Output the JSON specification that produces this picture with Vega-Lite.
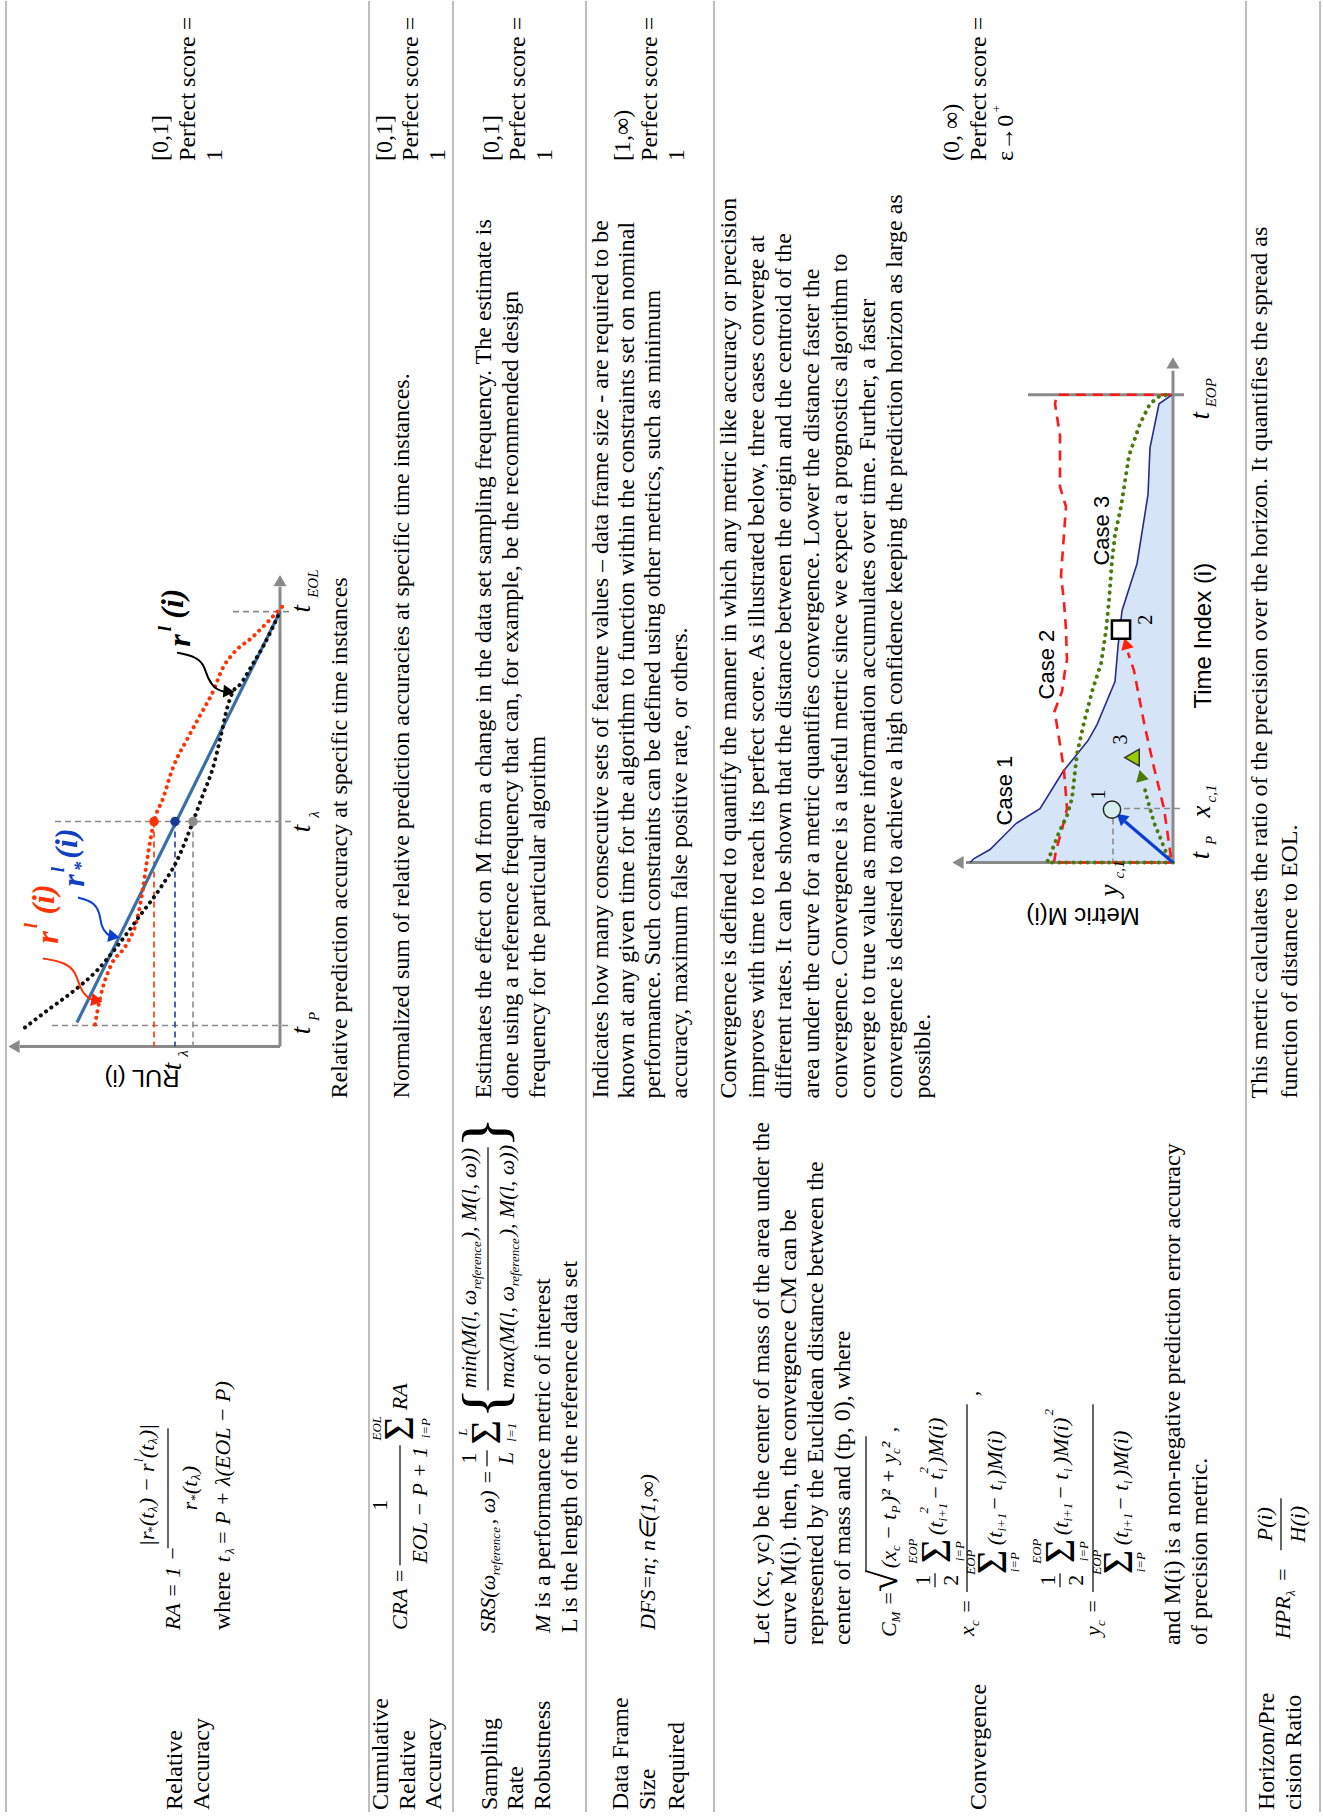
{
"$schema":"https://vega.github.io/schema/vega-lite/v6.json",
"width":1323,"height":1817,"padding":0,
"autosize":{"type":"fit","contains":"padding"},
"background":"white",
"config":{"view":{"stroke":null}},
"datasets":{
"R":[
{"x":6,"y":0,"x2":6,"y2":1812,"s":"sep"},
{"x":369,"y":0,"x2":369,"y2":1812,"s":"sep"},
{"x":453,"y":0,"x2":453,"y2":1812,"s":"sep"},
{"x":586,"y":0,"x2":586,"y2":1812,"s":"sep"},
{"x":714,"y":0,"x2":714,"y2":1812,"s":"sep"},
{"x":1246,"y":0,"x2":1246,"y2":1812,"s":"sep"},
{"x":1320,"y":0,"x2":1320,"y2":1812,"s":"sep"},
{"x":280,"y":1046,"x2":280,"y2":586,"s":"axis"},
{"x":280,"y":1046,"x2":20,"y2":1046,"s":"axis"},
{"x":52,"y":1025,"x2":292,"y2":1025,"s":"gdash"},
{"x":55,"y":821,"x2":292,"y2":821,"s":"gdash"},
{"x":233,"y":611,"x2":292,"y2":611,"s":"gdash"},
{"x":193,"y":821,"x2":193,"y2":1046,"s":"gdash"},
{"x":154,"y":821,"x2":154,"y2":1046,"s":"rdash"},
{"x":175,"y":821,"x2":175,"y2":1046,"s":"bdash"},
{"x":1173,"y":862,"x2":1173,"y2":370,"s":"axis"},
{"x":1173,"y":862,"x2":966,"y2":862,"s":"axis"},
{"x":1028,"y":394,"x2":1184,"y2":394,"s":"axis"},
{"x":1114,"y":808,"x2":1184,"y2":808,"s":"gdash"},
{"x":1113,"y":808,"x2":1113,"y2":862,"s":"gdash"},
{"x":168,"y":1548,"x2":168,"y2":1428,"s":"fbar"},
{"x":400,"y":1565,"x2":400,"y2":1445,"s":"fbar"},
{"x":487,"y":1466,"x2":487,"y2":1450,"s":"fbar"},
{"x":488,"y":1390,"x2":488,"y2":1147,"s":"fbar"},
{"x":866,"y":1572,"x2":866,"y2":1436,"s":"fbar"},
{"x":935,"y":1587,"x2":935,"y2":1573,"s":"fbar"},
{"x":967,"y":1592,"x2":967,"y2":1404,"s":"fbar"},
{"x":1060,"y":1587,"x2":1060,"y2":1573,"s":"fbar"},
{"x":1093,"y":1592,"x2":1093,"y2":1404,"s":"fbar"},
{"x":1281,"y":1550,"x2":1281,"y2":1498,"s":"fbar"}
],
"A":[
{"x":970,"y":862,"y2":862},{"x":974,"y":858,"y2":862},{"x":990,"y":849,"y2":862},{"x":1016,"y":823,"y2":862},{"x":1040,"y":808,"y2":862},{"x":1063,"y":771,"y2":862},{"x":1088,"y":740,"y2":862},{"x":1097,"y":724,"y2":862},{"x":1115,"y":681,"y2":862},{"x":1118,"y":646,"y2":862},{"x":1122,"y":610,"y2":862},{"x":1137,"y":563,"y2":862},{"x":1148,"y":494,"y2":862},{"x":1150,"y":447,"y2":862},{"x":1159,"y":403,"y2":862},{"x":1172,"y":394,"y2":862},{"x":1173,"y":394,"y2":862}
],
"L":[
{"s":"ra_true","i":0,"x":77,"y":1022},{"s":"ra_true","i":1,"x":280,"y":611},
{"s":"ra_pred","i":0,"x":95,"y":1024},{"s":"ra_pred","i":1,"x":100,"y":998},{"s":"ra_pred","i":2,"x":110,"y":967},{"s":"ra_pred","i":3,"x":127,"y":943},{"s":"ra_pred","i":4,"x":137,"y":919},{"s":"ra_pred","i":5,"x":143,"y":888},{"s":"ra_pred","i":6,"x":147,"y":860},{"s":"ra_pred","i":7,"x":154,"y":821},{"s":"ra_pred","i":8,"x":163,"y":798},{"s":"ra_pred","i":9,"x":173,"y":767},{"s":"ra_pred","i":10,"x":187,"y":739},{"s":"ra_pred","i":11,"x":200,"y":715},{"s":"ra_pred","i":12,"x":213,"y":691},{"s":"ra_pred","i":13,"x":223,"y":667},{"s":"ra_pred","i":14,"x":233,"y":653},{"s":"ra_pred","i":15,"x":253,"y":636},{"s":"ra_pred","i":16,"x":267,"y":622},{"s":"ra_pred","i":17,"x":285,"y":603},
{"s":"ra_other","i":0,"x":25,"y":1027},{"s":"ra_other","i":1,"x":50,"y":1008},{"s":"ra_other","i":2,"x":73,"y":991},{"s":"ra_other","i":3,"x":97,"y":970},{"s":"ra_other","i":4,"x":117,"y":946},{"s":"ra_other","i":5,"x":140,"y":915},{"s":"ra_other","i":6,"x":160,"y":888},{"s":"ra_other","i":7,"x":177,"y":860},{"s":"ra_other","i":8,"x":193,"y":821},{"s":"ra_other","i":9,"x":203,"y":794},{"s":"ra_other","i":10,"x":213,"y":767},{"s":"ra_other","i":11,"x":220,"y":739},{"s":"ra_other","i":12,"x":227,"y":708},{"s":"ra_other","i":13,"x":233,"y":691},{"s":"ra_other","i":14,"x":240,"y":684},{"s":"ra_other","i":15,"x":253,"y":663},{"s":"ra_other","i":16,"x":263,"y":646},{"s":"ra_other","i":17,"x":280,"y":611},
{"s":"cv1","i":0,"x":970,"y":862},{"s":"cv1","i":1,"x":974,"y":858},{"s":"cv1","i":2,"x":990,"y":849},{"s":"cv1","i":3,"x":1016,"y":823},{"s":"cv1","i":4,"x":1040,"y":808},{"s":"cv1","i":5,"x":1063,"y":771},{"s":"cv1","i":6,"x":1088,"y":740},{"s":"cv1","i":7,"x":1097,"y":724},{"s":"cv1","i":8,"x":1115,"y":681},{"s":"cv1","i":9,"x":1118,"y":646},{"s":"cv1","i":10,"x":1122,"y":610},{"s":"cv1","i":11,"x":1137,"y":563},{"s":"cv1","i":12,"x":1148,"y":494},{"s":"cv1","i":13,"x":1150,"y":447},{"s":"cv1","i":14,"x":1159,"y":403},{"s":"cv1","i":15,"x":1172,"y":394},
{"s":"cv2","i":0,"x":1173,"y":862},{"s":"cv2","i":1,"x":1054,"y":862},{"s":"cv2","i":2,"x":1056,"y":850},{"s":"cv2","i":3,"x":1062,"y":829},{"s":"cv2","i":4,"x":1067,"y":808},{"s":"cv2","i":5,"x":1064,"y":770},{"s":"cv2","i":6,"x":1061,"y":750},{"s":"cv2","i":7,"x":1056,"y":719},{"s":"cv2","i":8,"x":1054,"y":712},{"s":"cv2","i":9,"x":1062,"y":691},{"s":"cv2","i":10,"x":1066,"y":663},{"s":"cv2","i":11,"x":1067,"y":660},{"s":"cv2","i":12,"x":1066,"y":629},{"s":"cv2","i":13,"x":1064,"y":601},{"s":"cv2","i":14,"x":1061,"y":575},{"s":"cv2","i":15,"x":1066,"y":506},{"s":"cv2","i":16,"x":1060,"y":486},{"s":"cv2","i":17,"x":1060,"y":458},{"s":"cv2","i":18,"x":1060,"y":435},{"s":"cv2","i":19,"x":1055,"y":403},{"s":"cv2","i":20,"x":1057,"y":394},{"s":"cv2","i":21,"x":1172,"y":394},
{"s":"cv3","i":0,"x":1173,"y":862},{"s":"cv3","i":1,"x":1047,"y":862},{"s":"cv3","i":2,"x":1052,"y":850},{"s":"cv3","i":3,"x":1059,"y":832},{"s":"cv3","i":4,"x":1067,"y":815},{"s":"cv3","i":5,"x":1072,"y":798},{"s":"cv3","i":6,"x":1077,"y":753},{"s":"cv3","i":7,"x":1084,"y":722},{"s":"cv3","i":8,"x":1092,"y":691},{"s":"cv3","i":9,"x":1101,"y":663},{"s":"cv3","i":10,"x":1106,"y":630},{"s":"cv3","i":11,"x":1109,"y":600},{"s":"cv3","i":12,"x":1112,"y":560},{"s":"cv3","i":13,"x":1115,"y":534},{"s":"cv3","i":14,"x":1121,"y":506},{"s":"cv3","i":15,"x":1129,"y":455},{"s":"cv3","i":16,"x":1140,"y":423},{"s":"cv3","i":17,"x":1150,"y":403},{"s":"cv3","i":18,"x":1160,"y":395},{"s":"cv3","i":19,"x":1172,"y":394},
{"s":"arr_blue","i":0,"x":1173,"y":862},{"s":"arr_blue","i":1,"x":1125,"y":821},
{"s":"arr_red","i":0,"x":1171,"y":857},{"s":"arr_red","i":1,"x":1164,"y":808},{"s":"arr_red","i":2,"x":1154,"y":767},{"s":"arr_red","i":3,"x":1144,"y":722},{"s":"arr_red","i":4,"x":1134,"y":670},{"s":"arr_red","i":5,"x":1128,"y":652},
{"s":"arr_green","i":0,"x":1168,"y":857},{"s":"arr_green","i":1,"x":1161,"y":839},{"s":"arr_green","i":2,"x":1154,"y":822},{"s":"arr_green","i":3,"x":1148,"y":801},{"s":"arr_green","i":4,"x":1144,"y":785},
{"s":"curl_red","i":0,"x":43,"y":958},{"s":"curl_red","i":1,"x":66,"y":962},{"s":"curl_red","i":2,"x":76,"y":972},{"s":"curl_red","i":3,"x":80,"y":988},{"s":"curl_red","i":4,"x":87,"y":997},{"s":"curl_red","i":5,"x":92,"y":999},
{"s":"curl_blue","i":0,"x":78,"y":897},{"s":"curl_blue","i":1,"x":93,"y":901},{"s":"curl_blue","i":2,"x":100,"y":912},{"s":"curl_blue","i":3,"x":101,"y":926},{"s":"curl_blue","i":4,"x":107,"y":934},{"s":"curl_blue","i":5,"x":110,"y":935},
{"s":"curl_black","i":0,"x":177,"y":652},{"s":"curl_black","i":1,"x":196,"y":656},{"s":"curl_black","i":2,"x":204,"y":664},{"s":"curl_black","i":3,"x":208,"y":679},{"s":"curl_black","i":4,"x":216,"y":689},{"s":"curl_black","i":5,"x":224,"y":691}
],
"P":[
{"k":"dot","x":154,"y":821,"s":"dot_red","a":0},
{"k":"dot","x":175,"y":821,"s":"dot_blue","a":0},
{"k":"dot","x":193,"y":821,"s":"dot_gray","a":0},
{"k":"head","x":280,"y":580,"s":"head_gray","a":0},
{"k":"head","x":14,"y":1046,"s":"head_gray","a":270},
{"k":"head","x":97,"y":1000,"s":"head_red","a":100},
{"k":"head","x":114,"y":936,"s":"head_blue","a":100},
{"k":"head","x":229,"y":691,"s":"head_black","a":95},
{"k":"head","x":1173,"y":362,"s":"head_gray","a":0},
{"k":"head","x":958,"y":862,"s":"head_gray","a":270},
{"k":"head","x":1121,"y":817,"s":"head_blue","a":311},
{"k":"head","x":1126,"y":643,"s":"head_red","a":344},
{"k":"head","x":1141,"y":775,"s":"head_green","a":345},
{"k":"c1","x":1112,"y":809,"s":"m","a":0},
{"k":"sq","x":1121,"y":629,"s":"m","a":0},
{"k":"tri","x":1132,"y":757,"s":"m","a":0}
],
"T":[
{"x":161,"y":160,"t":"[0,1]","r":"b"},
{"x":188,"y":160,"t":"Perfect score =","r":"b"},
{"x":215,"y":160,"t":"1","r":"b"},
{"x":385,"y":160,"t":"[0,1]","r":"b"},
{"x":411,"y":160,"t":"Perfect score =","r":"b"},
{"x":438,"y":160,"t":"1","r":"b"},
{"x":492,"y":160,"t":"[0,1]","r":"b"},
{"x":518,"y":160,"t":"Perfect score =","r":"b"},
{"x":545,"y":160,"t":"1","r":"b"},
{"x":623,"y":160,"t":"[1,∞)","r":"b"},
{"x":650,"y":160,"t":"Perfect score =","r":"b"},
{"x":677,"y":160,"t":"1","r":"b"},
{"x":952,"y":160,"t":"(0, ∞)","r":"b"},
{"x":979,"y":160,"t":"Perfect score =","r":"b"},
{"x":1006,"y":160,"t":"ε→0","r":"b"},
{"x":997,"y":108,"t":"+","r":"s"},
{"x":175,"y":1810,"t":"Relative","r":"b"},
{"x":202,"y":1810,"t":"Accuracy","r":"b"},
{"x":381,"y":1810,"t":"Cumulative","r":"b"},
{"x":408,"y":1810,"t":"Relative","r":"b"},
{"x":434,"y":1810,"t":"Accuracy","r":"b"},
{"x":490,"y":1810,"t":"Sampling","r":"b"},
{"x":516,"y":1810,"t":"Rate","r":"b"},
{"x":543,"y":1810,"t":"Robustness","r":"b"},
{"x":621,"y":1810,"t":"Data Frame","r":"b"},
{"x":648,"y":1810,"t":"Size","r":"b"},
{"x":677,"y":1810,"t":"Required","r":"b"},
{"x":979,"y":1810,"t":"Convergence","r":"b"},
{"x":1267,"y":1810,"t":"Horizon/Pre","r":"b"},
{"x":1294,"y":1810,"t":"cision Ratio","r":"b"},
{"x":340,"y":1098,"t":"Relative prediction accuracy at specific time instances","r":"b"},
{"x":402,"y":1098,"t":"Normalized sum of relative prediction accuracies at specific time instances.","r":"b"},
{"x":484,"y":1098,"t":"Estimates the effect on M from a change in the data set sampling frequency. The estimate is","r":"b"},
{"x":511,"y":1098,"t":"done using a reference frequency that can, for example, be the recommended design","r":"b"},
{"x":538,"y":1098,"t":"frequency for the particular algorithm","r":"b"},
{"x":601,"y":1098,"t":"Indicates how many consecutive sets of feature values – data frame size - are required to be","r":"b"},
{"x":627,"y":1098,"t":"known at any given time for the algorithm to function within the constraints set on nominal","r":"b"},
{"x":653,"y":1098,"t":"performance.  Such constraints can be defined using other metrics, such as minimum","r":"b"},
{"x":680,"y":1098,"t":"accuracy, maximum false positive rate, or others.","r":"b"},
{"x":729,"y":1098,"t":"Convergence is defined to quantify the manner in which any metric like accuracy or precision","r":"b"},
{"x":757,"y":1098,"t":"improves with time to reach its perfect score. As illustrated below, three cases converge at","r":"b"},
{"x":784,"y":1098,"t":"different rates. It can be shown that the distance between the origin and the centroid of the","r":"b"},
{"x":812,"y":1098,"t":"area under the curve for a metric quantifies convergence. Lower the distance faster the","r":"b"},
{"x":840,"y":1098,"t":"convergence. Convergence is a useful metric since we expect a prognostics algorithm to","r":"b"},
{"x":868,"y":1098,"t":"converge to true value as more information accumulates over time. Further, a faster","r":"b"},
{"x":895,"y":1098,"t":"convergence is desired to achieve a high confidence keeping the prediction horizon as large as","r":"b"},
{"x":923,"y":1098,"t":"possible.","r":"b"},
{"x":1260,"y":1098,"t":"This metric calculates the ratio of the precision over the horizon. It quantifies the spread as","r":"b"},
{"x":1290,"y":1098,"t":"function of distance to EOL.","r":"b"},
{"x":173,"y":1630,"t":"RA = 1 −","r":"i"},
{"x":147,"y":1546,"t":"|r","r":"i"},
{"x":152,"y":1530,"t":"*","r":"s"},
{"x":147,"y":1526,"t":"(t","r":"i"},
{"x":153,"y":1509,"t":"λ","r":"s"},
{"x":147,"y":1505,"t":") − r","r":"i"},
{"x":139,"y":1460,"t":"l","r":"s"},
{"x":147,"y":1458,"t":"(t","r":"i"},
{"x":153,"y":1441,"t":"λ","r":"s"},
{"x":147,"y":1437,"t":")|","r":"i"},
{"x":190,"y":1510,"t":"r","r":"i"},
{"x":195,"y":1498,"t":"*","r":"s"},
{"x":190,"y":1494,"t":"(t","r":"i"},
{"x":196,"y":1477,"t":"λ","r":"s"},
{"x":190,"y":1473,"t":")","r":"i"},
{"x":223,"y":1630,"t":"where","r":"b"},
{"x":223,"y":1562,"t":"t","r":"i"},
{"x":230,"y":1551,"t":"λ","r":"s"},
{"x":223,"y":1545,"t":"= P + λ(EOL − P)","r":"i"},
{"x":400,"y":1630,"t":"CRA =","r":"i"},
{"x":380,"y":1505,"t":"1","r":"rc"},
{"x":420,"y":1505,"t":"EOL − P + 1","r":"ic"},
{"x":400,"y":1428,"t":"Σ","r":"sig"},
{"x":377,"y":1428,"t":"EOL","r":"s"},
{"x":426,"y":1428,"t":"i=P","r":"s"},
{"x":400,"y":1410,"t":"RA","r":"i"},
{"x":488,"y":1633,"t":"SRS(ω","r":"i"},
{"x":496,"y":1551,"t":"reference","r":"s"},
{"x":488,"y":1524,"t":", ω) =","r":"i"},
{"x":469,"y":1458,"t":"1","r":"rc"},
{"x":506,"y":1458,"t":"L","r":"ic"},
{"x":487,"y":1432,"t":"Σ","r":"sig"},
{"x":463,"y":1432,"t":"L","r":"s"},
{"x":512,"y":1432,"t":"l=1","r":"s"},
{"x":487,"y":1403,"t":"{","r":"br"},
{"x":469,"y":1388,"t":"min(M(l, ω","r":"i"},
{"x":477,"y":1265,"t":"reference","r":"s"},
{"x":469,"y":1239,"t":"), M(l, ω))","r":"i"},
{"x":507,"y":1388,"t":"max(M(l, ω","r":"i"},
{"x":515,"y":1262,"t":"reference","r":"s"},
{"x":507,"y":1236,"t":"), M(l, ω))","r":"i"},
{"x":487,"y":1132,"t":"}","r":"br"},
{"x":543,"y":1633,"t":"M","r":"i"},
{"x":543,"y":1608,"t":"is a performance metric of interest","r":"b"},
{"x":570,"y":1633,"t":"L is the length of the reference data set","r":"b"},
{"x":648,"y":1630,"t":"DFS=n;  n∈(1,∞)","r":"i"},
{"x":762,"y":1645,"t":"Let (xc, yc) be the center of mass of the area under the","r":"b"},
{"x":789,"y":1645,"t":"curve M(i). then, the convergence CM can be","r":"b"},
{"x":816,"y":1645,"t":"represented by the Euclidean distance between the","r":"b"},
{"x":843,"y":1645,"t":"center of mass and (tp, 0), where","r":"b"},
{"x":889,"y":1637,"t":"C","r":"i"},
{"x":896,"y":1617,"t":"M","r":"s"},
{"x":889,"y":1606,"t":"=","r":"i"},
{"x":885,"y":1581,"t":"√","r":"rad"},
{"x":889,"y":1568,"t":"(x","r":"i"},
{"x":896,"y":1548,"t":"c","r":"s"},
{"x":889,"y":1540,"t":"− t","r":"i"},
{"x":896,"y":1509,"t":"P","r":"s"},
{"x":889,"y":1503,"t":")² + y","r":"i"},
{"x":896,"y":1451,"t":"c","r":"s"},
{"x":889,"y":1448,"t":"²","r":"i"},
{"x":889,"y":1432,"t":",","r":"i"},
{"x":967,"y":1636,"t":"x","r":"i"},
{"x":975,"y":1623,"t":"c","r":"s"},
{"x":967,"y":1614,"t":"=","r":"i"},
{"x":923,"y":1580,"t":"1","r":"rc"},
{"x":951,"y":1580,"t":"2","r":"rc"},
{"x":937,"y":1551,"t":"Σ","r":"sig"},
{"x":913,"y":1551,"t":"EOP","r":"s"},
{"x":960,"y":1551,"t":"i=P","r":"s"},
{"x":936,"y":1535,"t":"(t","r":"i"},
{"x":943,"y":1512,"t":"i+1","r":"s"},
{"x":924,"y":1510,"t":"2","r":"s"},
{"x":936,"y":1500,"t":"− t","r":"i"},
{"x":943,"y":1470,"t":"i","r":"s"},
{"x":924,"y":1470,"t":"2","r":"s"},
{"x":936,"y":1464,"t":")M(i)","r":"i"},
{"x":993,"y":1562,"t":"Σ","r":"sig"},
{"x":971,"y":1562,"t":"EOP","r":"s"},
{"x":1015,"y":1562,"t":"i=P","r":"s"},
{"x":995,"y":1545,"t":"(t","r":"i"},
{"x":1002,"y":1522,"t":"i+1","r":"s"},
{"x":995,"y":1511,"t":"− t","r":"i"},
{"x":1002,"y":1482,"t":"i","r":"s"},
{"x":995,"y":1477,"t":")M(i)","r":"i"},
{"x":971,"y":1396,"t":",","r":"i"},
{"x":1093,"y":1636,"t":"y","r":"i"},
{"x":1101,"y":1623,"t":"c","r":"s"},
{"x":1093,"y":1614,"t":"=","r":"i"},
{"x":1048,"y":1580,"t":"1","r":"rc"},
{"x":1076,"y":1580,"t":"2","r":"rc"},
{"x":1061,"y":1551,"t":"Σ","r":"sig"},
{"x":1037,"y":1551,"t":"EOP","r":"s"},
{"x":1084,"y":1551,"t":"i=P","r":"s"},
{"x":1061,"y":1535,"t":"(t","r":"i"},
{"x":1068,"y":1512,"t":"i+1","r":"s"},
{"x":1061,"y":1500,"t":"− t","r":"i"},
{"x":1068,"y":1470,"t":"i","r":"s"},
{"x":1061,"y":1464,"t":")M(i)","r":"i"},
{"x":1049,"y":1412,"t":"2","r":"s"},
{"x":1119,"y":1562,"t":"Σ","r":"sig"},
{"x":1097,"y":1562,"t":"EOP","r":"s"},
{"x":1141,"y":1562,"t":"i=P","r":"s"},
{"x":1121,"y":1545,"t":"(t","r":"i"},
{"x":1128,"y":1522,"t":"i+1","r":"s"},
{"x":1121,"y":1511,"t":"− t","r":"i"},
{"x":1128,"y":1482,"t":"i","r":"s"},
{"x":1121,"y":1477,"t":")M(i)","r":"i"},
{"x":1173,"y":1645,"t":"and M(i) is a non-negative prediction error accuracy","r":"b"},
{"x":1200,"y":1645,"t":"of precision metric.","r":"b"},
{"x":1283,"y":1639,"t":"HPR","r":"i"},
{"x":1291,"y":1593,"t":"λ","r":"s"},
{"x":1283,"y":1582,"t":"=","r":"i"},
{"x":1265,"y":1524,"t":"P(i)","r":"ic"},
{"x":1298,"y":1524,"t":"H(i)","r":"ic"},
{"x":142,"y":1077,"t":"RUL (i)","r":"flip"},
{"x":173,"y":1066,"t":"t","r":"tl"},
{"x":183,"y":1053,"t":"λ","r":"tls"},
{"x":302,"y":1030,"t":"t","r":"tl"},
{"x":314,"y":1016,"t":"P","r":"tls"},
{"x":302,"y":828,"t":"t","r":"tl"},
{"x":314,"y":814,"t":"λ","r":"tls"},
{"x":302,"y":608,"t":"t","r":"tl"},
{"x":313,"y":583,"t":"EOL","r":"tls"},
{"x":1201,"y":855,"t":"t","r":"tl"},
{"x":1211,"y":840,"t":"P","r":"tls"},
{"x":1202,"y":811,"t":"x","r":"tl"},
{"x":1211,"y":793,"t":"c,1","r":"tls"},
{"x":1110,"y":890,"t":"y","r":"tl"},
{"x":1119,"y":869,"t":"c,1","r":"tls"},
{"x":1201,"y":415,"t":"t","r":"tl"},
{"x":1211,"y":392,"t":"EOP","r":"tls"},
{"x":1083,"y":915,"t":"Metric M(i)","r":"flip"},
{"x":1204,"y":708,"t":"Time Index (i)","r":"sansl"},
{"x":1005,"y":790,"t":"Case 1","r":"case"},
{"x":1047,"y":664,"t":"Case 2","r":"case"},
{"x":1102,"y":530,"t":"Case 3","r":"case"},
{"x":1099,"y":794,"t":"1","r":"n"},
{"x":1146,"y":619,"t":"2","r":"n"},
{"x":1121,"y":739,"t":"3","r":"n"},
{"x":48,"y":937,"t":"r","r":"L","s":"lab_red"},
{"x":31,"y":925,"t":"l","r":"Ls","s":"lab_red"},
{"x":44,"y":899,"t":"(i)","r":"L","s":"lab_red"},
{"x":74,"y":880,"t":"r","r":"L","s":"lab_blue"},
{"x":58,"y":869,"t":"l","r":"Ls","s":"lab_blue"},
{"x":81,"y":866,"t":"*","r":"Ls","s":"lab_blue"},
{"x":67,"y":843,"t":"(i)","r":"L","s":"lab_blue"},
{"x":180,"y":640,"t":"r","r":"L","s":"lab_black"},
{"x":165,"y":628,"t":"l","r":"Ls","s":"lab_black"},
{"x":173,"y":603,"t":"(i)","r":"L","s":"lab_black"}
]
},
"encoding":{
"x":{"field":"x","type":"quantitative","scale":{"domain":[0,1323],"nice":false,"zero":false},"axis":null},
"y":{"field":"y","type":"quantitative","scale":{"domain":[0,1817],"nice":false,"zero":false,"reverse":true},"axis":null}
},
"layer":[
{"data":{"name":"A"},"mark":{"type":"area","color":"#d6e4f8","opacity":1},"encoding":{"y2":{"field":"y2"}}},
{"data":{"name":"R"},"transform":[{"filter":{"field":"s","equal":"sep"}}],"mark":{"type":"rule","strokeWidth":2},"encoding":{"x2":{"field":"x2"},"y2":{"field":"y2"},"color":{"field":"s","type":"nominal","legend":null,"scale":{"domain":["sep","fbar","axis","gdash","rdash","bdash","ra_true","ra_pred","ra_other","cv1","cv2","cv3","arr_blue","arr_red","arr_green","curl_red","curl_blue","curl_black","dot_red","dot_blue","dot_gray","head_gray","head_red","head_blue","head_black","head_green","lab_red","lab_blue","lab_black"],"range":["#bdbdbd","#000000","#8a8a8a","#8a8a8a","#ff3300","#1f3f9f","#3a6ea8","#ff3300","#111111","#2b2b8f","#ff1a1a","#4b7a0a","#0a3fd6","#ff1a1a","#4b7a0a","#ff3300","#0a3fd6","#000000","#ff3300","#1a3a9a","#8c8c8c","#8a8a8a","#ff2200","#0a3fd6","#000000","#4b7a0a","#ff3300","#1040c0","#000000"]}}}},
{"data":{"name":"R"},"transform":[{"filter":{"field":"s","equal":"fbar"}}],"mark":{"type":"rule","strokeWidth":1.2},"encoding":{"x2":{"field":"x2"},"y2":{"field":"y2"},"color":{"field":"s","type":"nominal","legend":null}}},
{"data":{"name":"R"},"transform":[{"filter":{"field":"s","equal":"axis"}}],"mark":{"type":"rule","strokeWidth":3},"encoding":{"x2":{"field":"x2"},"y2":{"field":"y2"},"color":{"field":"s","type":"nominal","legend":null}}},
{"data":{"name":"R"},"transform":[{"filter":{"field":"s","oneOf":["gdash","rdash","bdash"]}}],"mark":{"type":"rule","strokeWidth":1.6,"strokeDash":[6,4]},"encoding":{"x2":{"field":"x2"},"y2":{"field":"y2"},"color":{"field":"s","type":"nominal","legend":null}}},
{"data":{"name":"L"},"transform":[{"filter":{"field":"s","equal":"cv1"}}],"mark":{"type":"line","strokeWidth":1.6},"encoding":{"order":{"field":"i","type":"quantitative"},"color":{"field":"s","type":"nominal","legend":null}}},
{"data":{"name":"L"},"transform":[{"filter":{"field":"s","oneOf":["cv2","arr_red"]}}],"mark":{"type":"line","strokeWidth":2.6,"strokeDash":[10,7]},"encoding":{"order":{"field":"i","type":"quantitative"},"color":{"field":"s","type":"nominal","legend":null}}},
{"data":{"name":"L"},"transform":[{"filter":{"field":"s","oneOf":["cv3","arr_green"]}}],"mark":{"type":"line","strokeWidth":4,"strokeDash":[0.1,7],"strokeCap":"round"},"encoding":{"order":{"field":"i","type":"quantitative"},"color":{"field":"s","type":"nominal","legend":null}}},
{"data":{"name":"L"},"transform":[{"filter":{"field":"s","oneOf":["ra_true","arr_blue"]}}],"mark":{"type":"line","strokeWidth":3.2},"encoding":{"order":{"field":"i","type":"quantitative"},"color":{"field":"s","type":"nominal","legend":null}}},
{"data":{"name":"L"},"transform":[{"filter":{"field":"s","oneOf":["ra_pred","ra_other"]}}],"mark":{"type":"line","strokeWidth":4,"strokeDash":[0.1,6.5],"strokeCap":"round","interpolate":"monotone"},"encoding":{"order":{"field":"i","type":"quantitative"},"color":{"field":"s","type":"nominal","legend":null}}},
{"data":{"name":"L"},"transform":[{"filter":{"field":"s","oneOf":["curl_red","curl_blue","curl_black"]}}],"mark":{"type":"line","strokeWidth":2,"interpolate":"basis"},"encoding":{"order":{"field":"i","type":"quantitative"},"color":{"field":"s","type":"nominal","legend":null}}},
{"data":{"name":"P"},"transform":[{"filter":{"field":"k","equal":"dot"}}],"mark":{"type":"point","filled":true,"shape":"circle","size":90,"opacity":1},"encoding":{"color":{"field":"s","type":"nominal","legend":null}}},
{"data":{"name":"P"},"transform":[{"filter":{"field":"k","equal":"head"}}],"mark":{"type":"point","filled":true,"shape":"triangle-up","size":170,"opacity":1},"encoding":{"color":{"field":"s","type":"nominal","legend":null},"angle":{"field":"a","type":"quantitative","scale":null}}},
{"data":{"name":"P"},"transform":[{"filter":{"field":"k","equal":"c1"}}],"mark":{"type":"point","shape":"circle","size":300,"filled":true,"fill":"#d5eded","stroke":"#222222","strokeWidth":1.5,"opacity":1}},
{"data":{"name":"P"},"transform":[{"filter":{"field":"k","equal":"sq"}}],"mark":{"type":"point","shape":"square","size":330,"filled":true,"fill":"#ffffff","stroke":"#000000","strokeWidth":2.5,"opacity":1}},
{"data":{"name":"P"},"transform":[{"filter":{"field":"k","equal":"tri"}}],"mark":{"type":"point","shape":"triangle-left","size":280,"filled":true,"fill":"#99cc00","stroke":"#333333","strokeWidth":1.5,"opacity":1}},
{"data":{"name":"T"},"transform":[{"filter":{"field":"r","equal":"b"}}],"mark":{"type":"text","font":"Liberation Serif","fontSize":24,"angle":270,"align":"left","baseline":"middle","color":"#000000"},"encoding":{"text":{"field":"t","type":"nominal"}}},
{"data":{"name":"T"},"transform":[{"filter":{"field":"r","equal":"i"}}],"mark":{"type":"text","font":"Liberation Serif","fontStyle":"italic","fontSize":22,"angle":270,"align":"left","baseline":"middle","color":"#000000"},"encoding":{"text":{"field":"t","type":"nominal"}}},
{"data":{"name":"T"},"transform":[{"filter":{"field":"r","equal":"ic"}}],"mark":{"type":"text","font":"Liberation Serif","fontStyle":"italic","fontSize":22,"angle":270,"align":"center","baseline":"middle","color":"#000000"},"encoding":{"text":{"field":"t","type":"nominal"}}},
{"data":{"name":"T"},"transform":[{"filter":{"field":"r","equal":"s"}}],"mark":{"type":"text","font":"Liberation Serif","fontStyle":"italic","fontSize":13,"angle":270,"align":"center","baseline":"middle","color":"#000000"},"encoding":{"text":{"field":"t","type":"nominal"}}},
{"data":{"name":"T"},"transform":[{"filter":{"field":"r","equal":"rc"}}],"mark":{"type":"text","font":"Liberation Serif","fontSize":22,"angle":270,"align":"center","baseline":"middle","color":"#000000"},"encoding":{"text":{"field":"t","type":"nominal"}}},
{"data":{"name":"T"},"transform":[{"filter":{"field":"r","equal":"sig"}}],"mark":{"type":"text","font":"Liberation Serif","fontSize":42,"angle":270,"align":"center","baseline":"middle","color":"#000000"},"encoding":{"text":{"field":"t","type":"nominal"}}},
{"data":{"name":"T"},"transform":[{"filter":{"field":"r","equal":"rad"}}],"mark":{"type":"text","font":"Liberation Serif","fontSize":40,"angle":270,"align":"center","baseline":"middle","color":"#000000"},"encoding":{"text":{"field":"t","type":"nominal"}}},
{"data":{"name":"T"},"transform":[{"filter":{"field":"r","equal":"br"}}],"mark":{"type":"text","font":"Liberation Serif","fontSize":64,"angle":270,"align":"center","baseline":"middle","color":"#000000"},"encoding":{"text":{"field":"t","type":"nominal"}}},
{"data":{"name":"T"},"transform":[{"filter":{"field":"r","equal":"tl"}}],"mark":{"type":"text","font":"Liberation Serif","fontStyle":"italic","fontSize":27,"angle":270,"align":"center","baseline":"middle","color":"#000000"},"encoding":{"text":{"field":"t","type":"nominal"}}},
{"data":{"name":"T"},"transform":[{"filter":{"field":"r","equal":"tls"}}],"mark":{"type":"text","font":"Liberation Serif","fontStyle":"italic","fontSize":15,"angle":270,"align":"center","baseline":"middle","color":"#000000"},"encoding":{"text":{"field":"t","type":"nominal"}}},
{"data":{"name":"T"},"transform":[{"filter":{"field":"r","equal":"n"}}],"mark":{"type":"text","font":"Liberation Serif","fontSize":20,"angle":270,"align":"center","baseline":"middle","color":"#000000"},"encoding":{"text":{"field":"t","type":"nominal"}}},
{"data":{"name":"T"},"transform":[{"filter":{"field":"r","equal":"case"}}],"mark":{"type":"text","font":"Liberation Sans","fontSize":22,"angle":270,"align":"center","baseline":"middle","color":"#000000"},"encoding":{"text":{"field":"t","type":"nominal"}}},
{"data":{"name":"T"},"transform":[{"filter":{"field":"r","equal":"sansl"}}],"mark":{"type":"text","font":"Liberation Sans","fontSize":24,"angle":270,"align":"left","baseline":"middle","color":"#000000"},"encoding":{"text":{"field":"t","type":"nominal"}}},
{"data":{"name":"T"},"transform":[{"filter":{"field":"r","equal":"flip"}}],"mark":{"type":"text","font":"Liberation Sans","fontSize":24,"angle":180,"align":"center","baseline":"middle","color":"#000000"},"encoding":{"text":{"field":"t","type":"nominal"}}},
{"data":{"name":"T"},"transform":[{"filter":{"field":"r","equal":"L"}}],"mark":{"type":"text","font":"Liberation Serif","fontStyle":"italic","fontWeight":"bold","fontSize":32,"angle":270,"align":"center","baseline":"middle"},"encoding":{"text":{"field":"t","type":"nominal"},"color":{"field":"s","type":"nominal","legend":null}}},
{"data":{"name":"T"},"transform":[{"filter":{"field":"r","equal":"Ls"}}],"mark":{"type":"text","font":"Liberation Serif","fontStyle":"italic","fontWeight":"bold","fontSize":19,"angle":270,"align":"center","baseline":"middle"},"encoding":{"text":{"field":"t","type":"nominal"},"color":{"field":"s","type":"nominal","legend":null}}}
]
}
